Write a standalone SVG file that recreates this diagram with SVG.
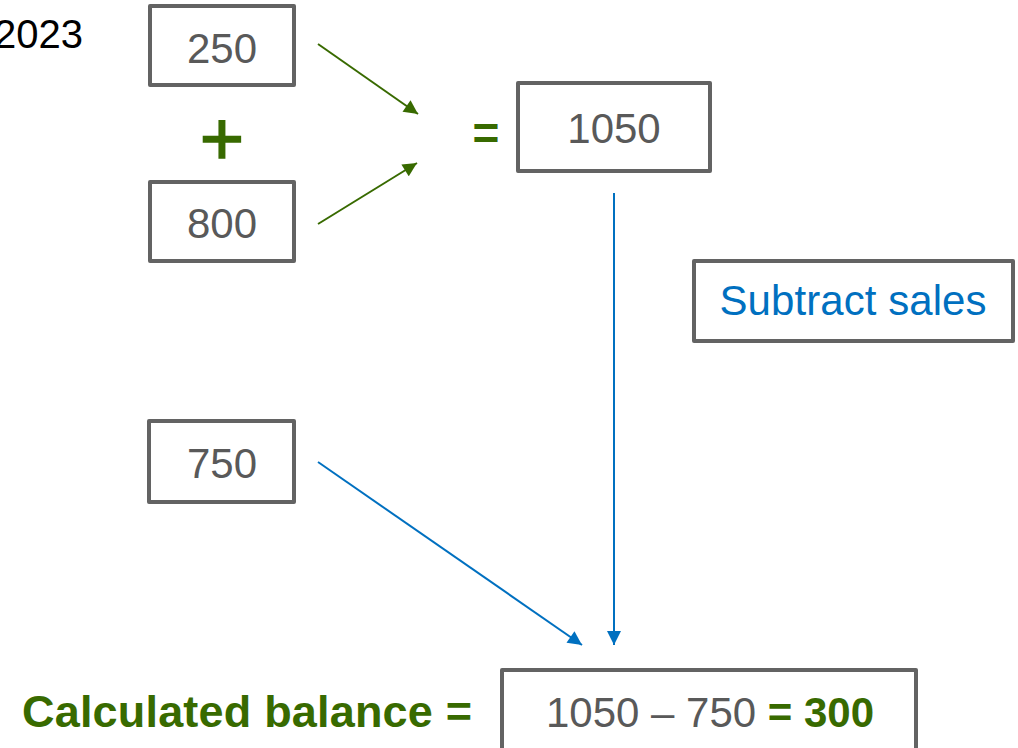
<svg xmlns="http://www.w3.org/2000/svg" width="1018" height="748" viewBox="0 0 1018 748">
<defs>
<style>
.box{fill:#ffffff;stroke:#636363;stroke-width:4;stroke-linejoin:round}
.num{font-family:"Liberation Sans",Arial,sans-serif;font-size:42px;fill:#595959;text-anchor:middle}
.green{fill:#386A00}
.gline{stroke:#386A00;stroke-width:2;fill:none}
.bline{stroke:#0070C0;stroke-width:2;fill:none}
</style>
<marker id="ag" viewBox="0 0 10 10" refX="10" refY="5" markerWidth="15" markerHeight="14" markerUnits="userSpaceOnUse" orient="auto"><path d="M0,0 L10,5 L0,10 z" fill="#386A00"/></marker>
<marker id="ab" viewBox="0 0 10 10" refX="10" refY="5" markerWidth="15" markerHeight="14" markerUnits="userSpaceOnUse" orient="auto"><path d="M0,0 L10,5 L0,10 z" fill="#0070C0"/></marker>
</defs>
<rect width="1018" height="748" fill="#ffffff"/>
<text x="83" y="48" font-family="Liberation Sans,Arial,sans-serif" font-size="40" fill="#000000" text-anchor="end">2023</text>
<g id="n250"><rect class="box" x="150" y="6" width="144" height="79"/><text class="num" x="222" y="63">250</text></g>
<g id="plus"><text x="222" y="165" font-family="Liberation Sans,Arial,sans-serif" font-size="76" stroke="#386A00" stroke-width="1.5" class="green" text-anchor="middle">+</text></g>
<g id="n800"><rect class="box" x="150" y="182" width="144" height="79"/><text class="num" x="222" y="238">800</text></g>
<g id="eq"><text x="486" y="149" font-family="Liberation Sans,Arial,sans-serif" font-size="46" font-weight="bold" class="green" text-anchor="middle">=</text></g>
<g id="n1050"><rect class="box" x="518" y="83" width="192" height="88"/><text class="num" x="614" y="143">1050</text></g>
<g id="subtract"><rect class="box" x="694" y="261" width="319" height="80"/><text x="853" y="315" font-family="Liberation Sans,Arial,sans-serif" font-size="42" fill="#0070C0" text-anchor="middle" textLength="267">Subtract sales</text></g>
<g id="n750"><rect class="box" x="149" y="421" width="145" height="81"/><text class="num" x="222" y="478">750</text></g>
<g id="result">
<text x="22" y="727" font-family="Liberation Sans,Arial,sans-serif" font-size="45" font-weight="bold" class="green" textLength="450">Calculated balance =</text>
<rect class="box" x="502" y="670" width="414" height="90"/>
<text x="710" y="727" class="num"><tspan>1050 – 750 </tspan><tspan font-weight="bold" fill="#386A00">= 300</tspan></text>
</g>
<g id="connectors">
<line class="gline" x1="318" y1="44" x2="418" y2="114" marker-end="url(#ag)"/>
<line class="gline" x1="318" y1="224" x2="417" y2="163" marker-end="url(#ag)"/>
<line class="bline" x1="614" y1="193" x2="614" y2="645" marker-end="url(#ab)"/>
<line class="bline" x1="318" y1="462" x2="582" y2="645" marker-end="url(#ab)"/>
</g>
</svg>
